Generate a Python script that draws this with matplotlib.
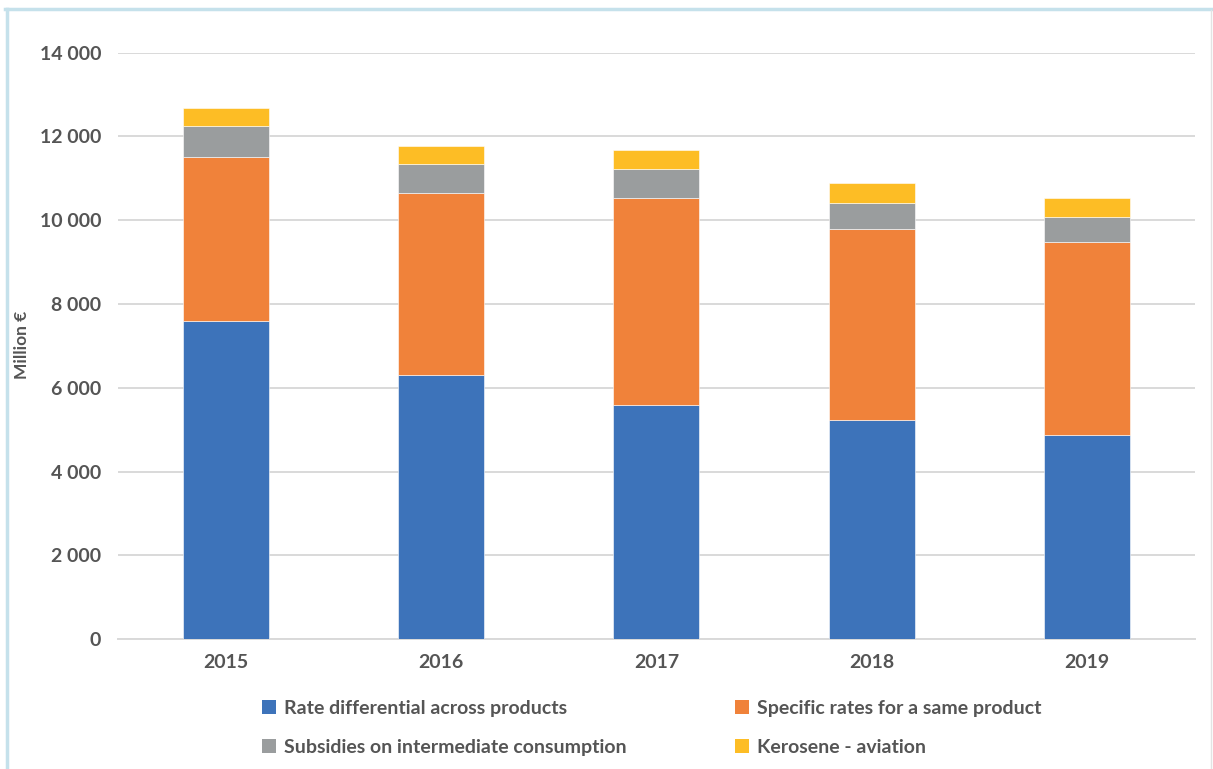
import matplotlib
matplotlib.use("Agg")
import matplotlib.pyplot as plt
from matplotlib.lines import Line2D
from matplotlib.patches import Patch
import numpy as np

years = ["2015", "2016", "2017", "2018", "2019"]
rate_differential = [7600, 6295, 5595, 5238, 4881]
specific_rates = [3910, 4348, 4929, 4557, 4588]
subsidies = [745, 707, 707, 610, 619]
kerosene = [428, 429, 436, 485, 445]

series_names = [
    "Rate differential across products",
    "Specific rates for a same product",
    "Subsidies on intermediate consumption",
    "Kerosene - aviation",
]
colors = ["#3d73ba", "#f0823a", "#9a9d9e", "#fdbd25"]
yticks = [0, 2000, 4000, 6000, 8000, 10000, 12000, 14000]

plt.rcParams["font.family"] = ["Lato", "DejaVu Sans"]
text_color = "#555555"

fig = plt.figure(figsize=(12.13, 7.69), dpi=100)
ax = fig.add_axes([0.0973, 0.169, 0.8877, 0.7625])

x = np.arange(len(years))
bottom = np.zeros(len(years))
handles = []
for vals, col, name in zip([rate_differential, specific_rates, subsidies, kerosene], colors, series_names):
    ax.bar(x, vals, width=0.4, bottom=bottom, color=col, edgecolor="white",
           linewidth=0.4, zorder=3)
    bottom += np.array(vals)
    handles.append(Patch(facecolor=col, edgecolor="none", label=name))

ax.set_xlim(-0.5, len(years) - 0.5)
ax.set_ylim(0, 14000)
ax.set_yticks(yticks)
ax.set_yticklabels([f"{v:,}".replace(",", " ") for v in yticks])
ax.set_xticks(x)
ax.set_xticklabels(years)
ax.tick_params(axis="both", length=0, labelsize=14, labelcolor=text_color)
ax.tick_params(axis="y", pad=12)
ax.tick_params(axis="x", pad=11)
for lbl in ax.get_xticklabels() + ax.get_yticklabels():
    lbl.set_fontweight("bold")
ax.grid(axis="y", color="#d9d9d9", linewidth=1.4, zorder=0)
for s in ["top", "right", "left"]:
    ax.spines[s].set_visible(False)
ax.spines["bottom"].set_color("#d9d9d9")
ax.spines["bottom"].set_linewidth(1.4)

fig.text(22 / 1213, 1 - 345 / 769, "Million €", rotation=90, ha="center", va="center",
         fontsize=12.5, fontweight="bold", color=text_color)

# legend filled column-wise: blue/gray in first column, orange/yellow in second
leg = fig.legend([handles[0], handles[2], handles[1], handles[3]],
                 [series_names[0], series_names[2], series_names[1], series_names[3]],
                 ncol=2, loc="center left", bbox_to_anchor=(244 / 1213, 1 - 728 / 769),
                 frameon=False, handlelength=0.72, handleheight=0.72, handletextpad=0.42,
                 columnspacing=5.6, labelspacing=1.15,
                 prop={"size": 14, "weight": "bold"})
for t in leg.get_texts():
    t.set_color(text_color)

# outer frame
fig.add_artist(Line2D([6.5 / 1213, 6.5 / 1213], [0, 1 - 9 / 769], color="#c5e1eb", linewidth=2.5,
                      transform=fig.transFigure))
fig.add_artist(Line2D([5 / 1213, 1211 / 1213], [1 - 9 / 769, 1 - 9 / 769], color="#c5e1eb",
                      linewidth=2.5, transform=fig.transFigure))
fig.add_artist(Line2D([1211 / 1213, 1211 / 1213], [0, 1 - 10 / 769], color="#e3e3e3", linewidth=1,
                      transform=fig.transFigure))

fig.savefig("out.png", dpi=100)
